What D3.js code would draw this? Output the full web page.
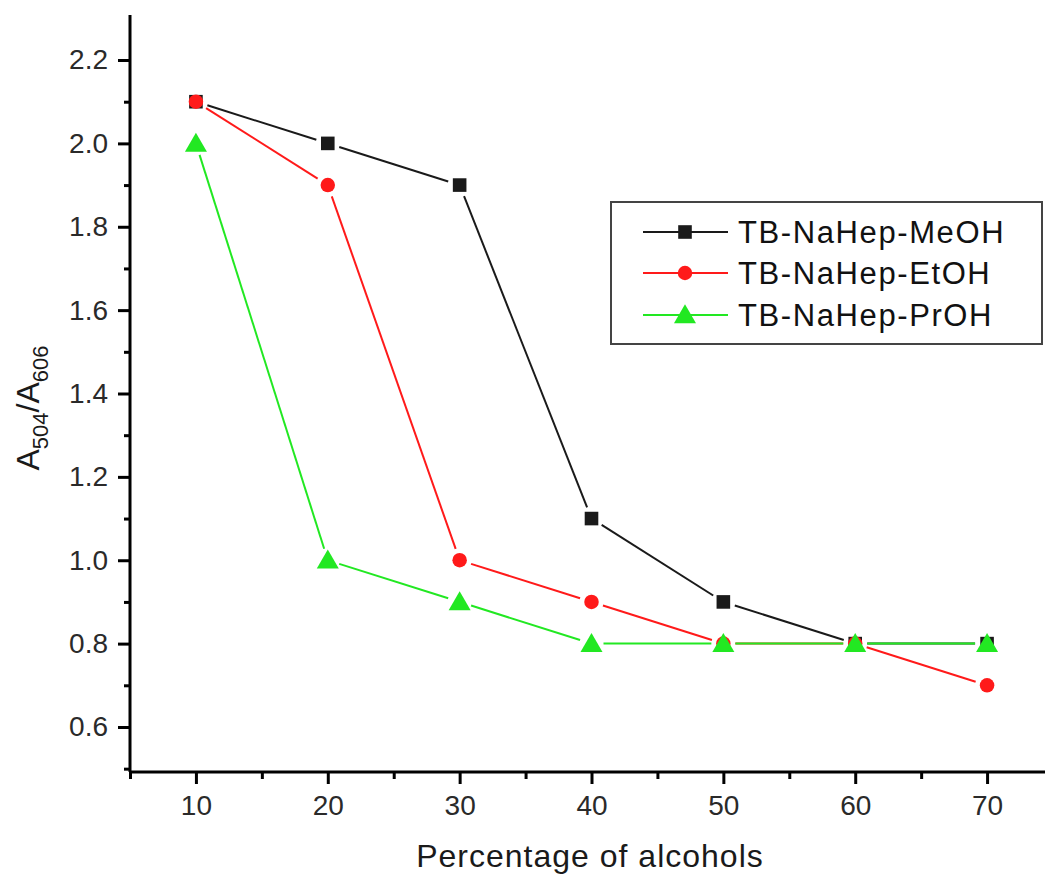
<!DOCTYPE html>
<html>
<head>
<meta charset="utf-8">
<script src="https://cdn.jsdelivr.net/npm/d3@7"></script>
<style>
  body { margin: 0; background: #fff; }
  text { font-family: "Liberation Sans", Arial, sans-serif; }
  .axis path, .axis line { stroke: #000; stroke-width: 3; }
</style>
</head>
<body>
<svg id="myGraph" width="1045" height="878"></svg>
<script>
// data
var percents = [10, 20, 30, 40, 50, 60, 70];
var meoh = [2.1, 2.0, 1.9, 1.1, 0.9, 0.8, 0.8];
var etoh = [2.1, 1.9, 1.0, 0.9, 0.8, 0.8, 0.7];
var proh = [2.0, 1.0, 0.9, 0.8, 0.8, 0.8, 0.8];
var seriesNames = ["TB-NaHep-MeOH", "TB-NaHep-EtOH", "TB-NaHep-PrOH"];
var xTicks = [10, 20, 30, 40, 50, 60, 70];
var yTicks = [0.6, 0.8, 1.0, 1.2, 1.4, 1.6, 1.8, 2.0, 2.2];

var svg = d3.select("#myGraph");

// plot area edges
var plotLeft = 130, plotRight = 1053, plotTop = 15, plotBottom = 772;

var x = d3.scaleLinear().domain([5, 75]).range([plotLeft, plotRight]);
var y = d3.scaleLinear().domain([0.492, 2.308]).range([plotBottom, plotTop]);

// minor ticks first
svg.append("g").attr("class", "axis")
  .attr("transform", "translate(0," + plotBottom + ")")
  .call(d3.axisBottom(x).tickValues(d3.range(5, 80, 10)).tickSize(7).tickFormat(""))
  .select(".domain").remove();
svg.append("g").attr("class", "axis")
  .attr("transform", "translate(" + plotLeft + ",0)")
  .call(d3.axisLeft(y).tickValues([0.5, 0.7, 0.9, 1.1, 1.3, 1.5, 1.7, 1.9, 2.1]).tickSize(6).tickFormat(""))
  .select(".domain").remove();

// major ticks
var xAxis = svg.append("g").attr("class", "axis")
  .attr("transform", "translate(0," + plotBottom + ")")
  .call(d3.axisBottom(x).tickValues(xTicks).tickSize(12).tickSizeOuter(0).tickPadding(11));
var yAxis = svg.append("g").attr("class", "axis")
  .attr("transform", "translate(" + plotLeft + ",0)")
  .call(d3.axisLeft(y).tickValues(yTicks).tickSize(12).tickSizeOuter(0).tickPadding(10)
    .tickFormat(d3.format(".1f")));
xAxis.select(".domain").attr("d", "M" + plotLeft + ",0H" + plotRight);
yAxis.select(".domain").attr("d", "M0," + plotBottom + "V" + plotTop);
svg.selectAll(".axis text")
  .style("font-size", "28px").style("fill", "#2a2a2a")
  .style("font-family", "'Liberation Sans', Arial, sans-serif");

// axis titles
svg.append("text")
  .attr("x", 590).attr("y", 867)
  .attr("text-anchor", "middle")
  .style("font-size", "32px").style("letter-spacing", "1px").style("fill", "#1a1a1a")
  .text("Percentage of alcohols");

var yl = svg.append("text")
  .attr("transform", "translate(39,408) rotate(-90)")
  .attr("text-anchor", "middle")
  .style("font-size", "32px").style("fill", "#1a1a1a");
yl.append("tspan").text("A");
yl.append("tspan").attr("dy", 9).style("font-size", "22px").text("504");
yl.append("tspan").attr("dy", -9).text("/A");
yl.append("tspan").attr("dy", 9).style("font-size", "22px").text("606");

// series
var series = [
  { name: seriesNames[0], values: meoh, color: "#1a1a1a", shape: d3.symbolSquare, size: 185 },
  { name: seriesNames[1], values: etoh, color: "#ff1a1a", shape: d3.symbolCircle, size: 165 },
  { name: seriesNames[2], values: proh, color: "#22e822", shape: d3.symbolTriangle, size: 210 }
];

var gap = 12;
series.forEach(function(s) {
  var pts = percents.map(function(p, i) { return [x(p), y(s.values[i])]; });
  var g = svg.append("g");
  for (var i = 0; i < pts.length - 1; i++) {
    var a = pts[i], b = pts[i + 1];
    var dx = b[0] - a[0], dy = b[1] - a[1];
    var len = Math.sqrt(dx * dx + dy * dy);
    if (len <= 2 * gap) continue;
    var ux = dx / len, uy = dy / len;
    g.append("line")
      .attr("x1", a[0] + ux * gap).attr("y1", a[1] + uy * gap)
      .attr("x2", b[0] - ux * gap).attr("y2", b[1] - uy * gap)
      .attr("stroke", s.color).attr("stroke-width", 2);
  }
  s.pts = pts;
});
series.forEach(function(s) {
  svg.append("g").selectAll("path")
    .data(s.pts).enter().append("path")
    .attr("transform", function(d) { return "translate(" + d[0] + "," + (d[1] + (s.shape === d3.symbolTriangle ? 2 : 0)) + ")"; })
    .attr("d", d3.symbol().type(s.shape).size(s.size))
    .attr("fill", s.color);
});

// legend
var legend = svg.append("g");
legend.append("rect")
  .attr("x", 611).attr("y", 202).attr("width", 431).attr("height", 142)
  .attr("fill", "#fff").attr("stroke", "#444").attr("stroke-width", 2);
var rowY = [232, 273, 315];
series.forEach(function(s, i) {
  legend.append("line")
    .attr("x1", 643).attr("x2", 728).attr("y1", rowY[i]).attr("y2", rowY[i])
    .attr("stroke", s.color).attr("stroke-width", 2);
  legend.append("path")
    .attr("transform", "translate(685," + (rowY[i] + (s.shape === d3.symbolTriangle ? 2 : 0)) + ")")
    .attr("d", d3.symbol().type(s.shape).size(s.size))
    .attr("fill", s.color);
  legend.append("text")
    .attr("x", 738).attr("y", rowY[i] + 11)
    .style("font-size", "31px").style("letter-spacing", "1.6px").style("fill", "#111")
    .text(s.name);
});
</script>
</body>
</html>
